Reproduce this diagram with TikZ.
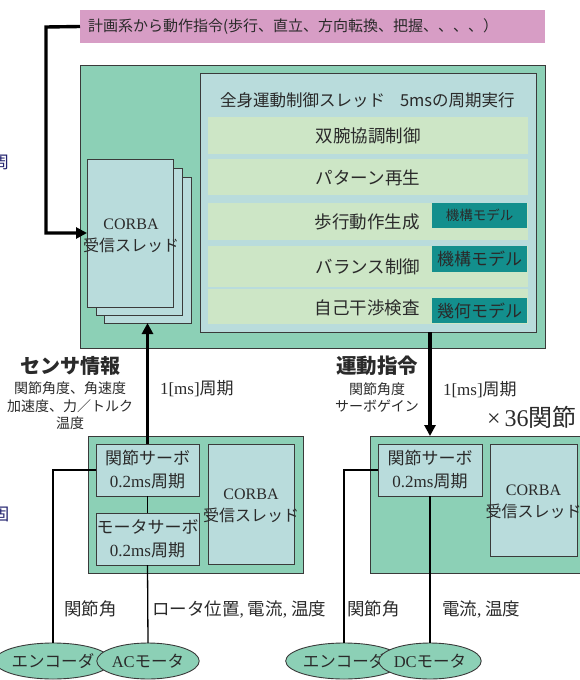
\documentclass[tikz,border=0pt]{standalone}
\usepackage{fontspec}
\setmainfont{Noto Sans CJK JP}
\newfontfamily\ser{Liberation Serif}
\usetikzlibrary{arrows.meta,shapes.geometric}
\definecolor{pinkc}{HTML}{D79DC5}
\definecolor{greenc}{HTML}{8CD0B6}
\definecolor{lbluec}{HTML}{B9DCDC}
\definecolor{lgreenc}{HTML}{CDE6C6}
\definecolor{tealc}{HTML}{138F8D}
\definecolor{linec}{HTML}{3A3A3A}
\definecolor{textc}{HTML}{2A2A2A}
\definecolor{navyc}{HTML}{22226E}
\newcommand\myfs[1]{\fontsize{#1}{#1}\selectfont}
\newcommand\myfsb[2]{\fontsize{#1}{#2}\selectfont}
\begin{document}
\begin{tikzpicture}[x=1pt,y=-1pt,
  every node/.style={text=textc, inner sep=0pt, outer sep=0pt},
  box/.style={draw=linec, line width=0.9pt, anchor=north west},
  bar/.style={fill=lgreenc, anchor=north west, minimum width=320pt},
  teal/.style={fill=tealc, anchor=north west, minimum width=95pt},
  bigarrow/.style={line width=3.4pt, -{Triangle[length=11pt,width=11pt]}},
  thin/.style={line width=1.3pt, draw=black},
  ell/.style={ellipse, draw=linec, line width=0.9pt, fill=greenc, minimum width=88pt, minimum height=36pt},
  lab/.style={font=\myfs{17.5}},
  corba/.style={align=center, font=\myfsb{16}{22}}
]
\useasboundingbox (0,0) rectangle (580,680);
% cut-off glyphs at left edge
\node[anchor=east, text=navyc, font=\myfs{17}] (cutA) at (9.5,162) {周};
\node[anchor=east, text=navyc, font=\myfs{17}] (cutB) at (9.5,514) {固};

% planning command
\node[box, draw=none, fill=pinkc, minimum width=465pt, minimum height=33pt] (plan) at (80,10) {};
\node[anchor=west, font=\myfs{15}] (plantxt) at (88,27) {計画系から動作指令(歩行、直立、方向転換、把握、、、、）};

% upper block
\node[box, fill=greenc, minimum width=465pt, minimum height=283pt] (outer) at (80,65) {};
\node[box, fill=lbluec, minimum width=336pt, minimum height=259pt] (inner) at (200,73) {};
\node[anchor=west, font=\myfs{16.5}] (title) at (220,100) {全身運動制御スレッド\hspace{15pt}5msの周期実行};

\node[bar, minimum height=37pt] (b1) at (208,117) {};
\node[bar, minimum height=36pt] (b2) at (208,159) {};
\node[bar, minimum height=37pt] (b3) at (208,203) {};
\node[bar, minimum height=41pt] (b4) at (208,246) {};
\node[bar, minimum height=35pt] (b5) at (208,289) {};
\node[teal, minimum height=25pt] (t1) at (432,203) {};
\node[teal, minimum height=26pt] (t2) at (432,246) {};
\node[teal, minimum height=25pt] (t3) at (432,298) {};
\node[font=\myfs{13.5}] (t1t) at (t1.center) {機構モデル};
\node[font=\myfs{17}] (t2t) at (t2.center) {機構モデル};
\node[font=\myfs{17}] (t3t) at (t3.center) {幾何モデル};

\node[lab] (r1) at (368,136) {双腕協調制御};
\node[lab] (r2) at (368,178) {パターン再生};
\node[lab] (r3) at (367,222) {歩行動作生成};
\node[lab] (r4) at (368,267) {バランス制御};
\node[lab] (r5) at (367,308) {自己干渉検査};

% stacked CORBA threads
\node[box, fill=lbluec, minimum width=87pt, minimum height=146pt] (c3) at (104,177) {};
\node[box, fill=lbluec, minimum width=86pt, minimum height=147pt] (c2) at (96,168) {};
\node[box, fill=lbluec, minimum width=86pt, minimum height=148pt] (c1) at (87,159) {};
\node[corba] (c1t) at ([xshift=1pt,yshift=-3pt]c1.center) {{\ser CORBA}\\受信スレッド};

\coordinate (lc) at (46,27);
\draw[bigarrow] (plan.west) -- (lc) |- (c1.west);

% lower left unit
\node[box, fill=greenc, minimum width=215pt, minimum height=137pt] (gL) at (88,436) {};
\node[box, fill=lbluec, minimum width=103pt, minimum height=52pt, align=center, font=\myfsb{17}{23}] (jsL) at (96,444) {関節サーボ\\{\ser 0.2ms}周期};
\node[box, fill=lbluec, minimum width=103pt, minimum height=52pt, align=center, font=\myfsb{17}{23}] (msL) at (96,513) {モータサーボ\\{\ser 0.2ms}周期};
\node[box, fill=lbluec, minimum width=86pt, minimum height=120pt] (cbL) at (208,444) {};
\node[corba] (cbLt) at ([yshift=-2pt]cbL.center) {{\ser CORBA}\\受信スレッド};

% lower right unit
\node[box, fill=greenc, minimum width=230pt, minimum height=137pt] (gR) at (370,436) {};
\node[box, fill=lbluec, minimum width=104pt, minimum height=52pt, align=center, font=\myfsb{17}{23}] (jsR) at (378,444) {関節サーボ\\{\ser 0.2ms}周期};
\node[box, fill=lbluec, minimum width=87pt, minimum height=112pt] (cbR) at (490,444) {};
\node[corba] (cbRt) at ([yshift=-2pt]cbR.center) {{\ser CORBA}\\受信スレッド};

% big arrows
\draw[bigarrow] (jsL.north) -- (c3.south -| jsL.north);
\draw[bigarrow] (inner.south -| jsR.north) -- (gR.north -| jsR.north);

% arrow labels
\node[font=\bfseries\myfs{20}] (sens) at (70,366) {センサ情報};
\node[align=center, font=\myfsb{14}{17.5}] (senst) at (70,406) {関節角度、角速度\\加速度、力／トルク\\温度};
\node[anchor=west, font=\myfs{17}] (p1) at (160,389) {{\ser 1[ms]}周期};
\node[font=\bfseries\myfs{20.5}] (cmd) at (377,366) {運動指令};
\node[align=center, font=\myfsb{14}{17}] (cmdt) at (377,397) {関節角度\\サーボゲイン};
\node[anchor=west, font=\myfs{17}] (p2) at (443,390) {{\ser 1[ms]}周期};
\node[anchor=west, font=\myfs{24}] (x36) at (487,417) {{\ser ×\,36}関節};

% sensors / actuators
\node[ell, font=\myfs{16.5}] (encL) at (53,661) {エンコーダ};
\node[ell, font=\myfs{16.5}] (acL) at (148,661) {{\ser AC}モータ};
\node[ell, font=\myfs{16.5}] (encR) at (344,661) {エンコーダ};
\node[ell, font=\myfs{16.5}] (dcR) at (430,661) {{\ser DC}モータ};

\draw[thin] (jsL.south) -- (msL.north);
\draw[thin] (msL.south) -- (acL.north);
\draw[thin] (jsL.west) -| (encL.north);
\draw[thin] (jsR.west) -| (encR.north);
\draw[thin] (jsR.south) -- (dcR.north);

\node[anchor=west, lab] (lj1) at (64,609) {関節角};
\node[anchor=west, lab] (lr1) at (152,609) {ロータ位置{\ser ,} 電流{\ser ,} 温度};
\node[anchor=west, lab] (lj2) at (347,609) {関節角};
\node[anchor=west, lab] (lr2) at (442,609) {電流{\ser ,} 温度};
\end{tikzpicture}
\end{document}
